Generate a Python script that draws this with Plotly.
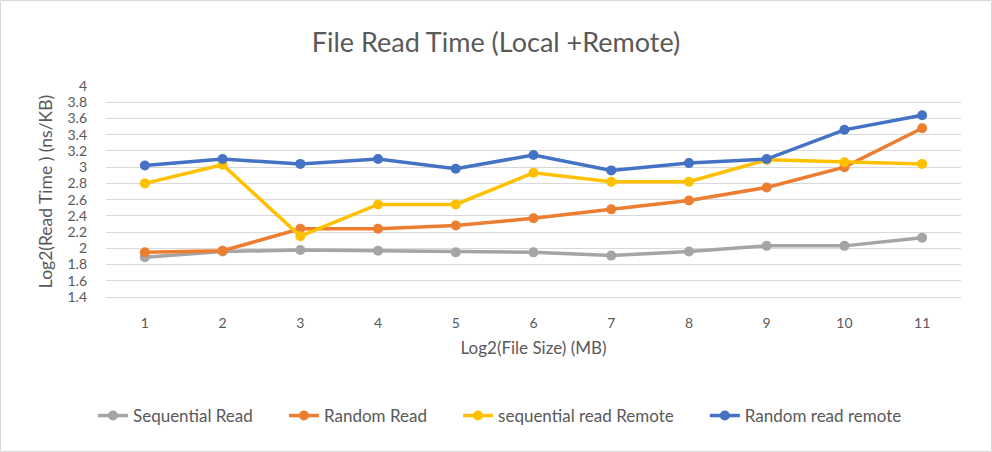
import plotly.graph_objects as go

x_vals = [1, 2, 3, 4, 5, 6, 7, 8, 9, 10, 11]
seq_read = [1.89, 1.96, 1.98, 1.97, 1.95, 1.95, 1.91, 1.96, 2.03, 2.03, 2.13]
rand_read = [1.95, 1.97, 2.24, 2.24, 2.28, 2.37, 2.48, 2.59, 2.75, 3.00, 3.48]
seq_remote = [2.80, 3.03, 2.15, 2.54, 2.54, 2.93, 2.82, 2.82, 3.09, 3.06, 3.04]
rand_remote = [3.02, 3.10, 3.04, 3.10, 2.98, 3.15, 2.96, 3.05, 3.10, 3.46, 3.64]
y_ticks = [1.4, 1.6, 1.8, 2, 2.2, 2.4, 2.6, 2.8, 3, 3.2, 3.4, 3.6, 3.8, 4]

series = [
    ("Sequential Read", seq_read, "#a5a5a5"),
    ("Random Read", rand_read, "#ed7d31"),
    ("sequential read Remote", seq_remote, "#ffc000"),
    ("Random read remote", rand_remote, "#4472c4"),
]

FONT = "Lato, 'Liberation Sans', sans-serif"
TXT = "#595959"
PAD = "\u00a0" * 6

fig = go.Figure()
for i, (name, vals, col) in enumerate(series):
    label = name + (PAD if i < len(series) - 1 else "")
    fig.add_trace(go.Scatter(
        x=x_vals, y=vals, name=label, mode="lines+markers",
        line=dict(color=col, width=3.5),
        marker=dict(color=col, size=10),
    ))

W, H = 992, 452
L, R, T, B = 106, 31, 86, 155
pw, ph = W - L - R, H - T - B

fig.update_layout(
    width=W, height=H,
    margin=dict(l=L, r=R, t=T, b=B),
    paper_bgcolor="white", plot_bgcolor="white",
    font=dict(family=FONT, color=TXT, size=14),
    title=dict(text="File Read Time (Local +Remote)", x=0.5, xanchor="center",
               y=1 - 43 / H, yanchor="middle",
               font=dict(size=27, color=TXT, family=FONT)),
    xaxis=dict(range=[0.5, 11.5], tickmode="array", tickvals=x_vals,
               ticktext=[str(v) for v in x_vals], showgrid=False,
               showline=True, linecolor="#d9d9d9", linewidth=1,
               zeroline=False, ticks="", ticklabelstandoff=13,
               tickfont=dict(size=14, color=TXT),
               title=dict(text="Log2(File Size) (MB)", standoff=12,
                          font=dict(size=17, color=TXT))),
    yaxis=dict(range=[1.4, 4], tickmode="array", tickvals=y_ticks,
               ticktext=[f"{v:g}" for v in y_ticks],
               showgrid=True, gridcolor="#d9d9d9", gridwidth=1,
               zeroline=False, showline=False, ticks="", ticklabelstandoff=18,
               tickfont=dict(size=14, color=TXT),
               title=dict(text="Log2(Read Time ) (ns/KB)", standoff=10,
                          font=dict(size=17.5, color=TXT))),
    legend=dict(orientation="h", x=(500 - L) / pw, xanchor="center",
                y=-(416 - T - ph) / ph, yanchor="middle",
                font=dict(size=17, color=TXT), itemwidth=30,
                traceorder="normal"),
    showlegend=True,
)

fig.add_shape(type="rect", xref="paper", yref="paper",
              x0=(0.5 - L) / pw, x1=(W - 0.5 - L) / pw,
              y0=-(B - 0.5) / ph, y1=1 + (T - 0.5) / ph,
              line=dict(color="#d9d9d9", width=1), layer="below")

fig.write_html("out.html")
